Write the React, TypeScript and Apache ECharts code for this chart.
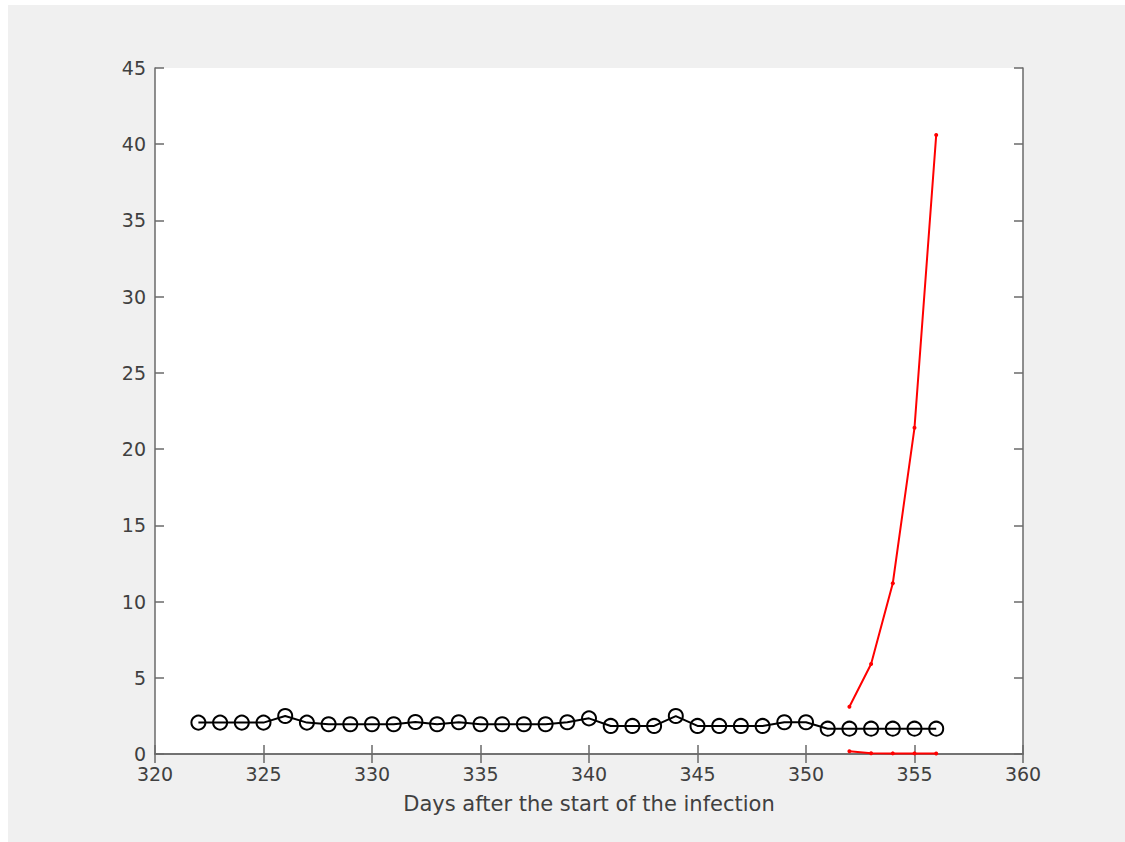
import React, { useEffect, useRef } from "react";
import * as echarts from "echarts";

const days = [322, 323, 324, 325, 326, 327, 328, 329, 330, 331, 332, 333, 334, 335, 336, 337, 338, 339, 340, 341, 342, 343, 344, 345, 346, 347, 348, 349, 350, 351, 352, 353, 354, 355, 356];
const observed = [2.06, 2.06, 2.06, 2.06, 2.49, 2.06, 1.95, 1.95, 1.95, 1.95, 2.1, 1.95, 2.08, 1.95, 1.95, 1.95, 1.95, 2.08, 2.34, 1.84, 1.84, 1.84, 2.49, 1.84, 1.84, 1.84, 1.84, 2.08, 2.08, 1.66, 1.66, 1.66, 1.66, 1.66, 1.66];
const forecastDays = [352, 353, 354, 355, 356];
const forecastHigh = [3.1, 5.9, 11.2, 21.4, 40.6];
const forecastLow = [0.18, 0.05, 0.04, 0.04, 0.03];
const xTicks = { min: 320, max: 360, interval: 5 };
const yTicks = { min: 0, max: 45, interval: 5 };
const xName = "Days after the start of the infection";

const FONT = "DejaVu Sans";
const TXT = "#404040";
const AX = "#6a6a6a";

export default function App() {
  const ref = useRef<HTMLDivElement>(null);
  useEffect(() => {
    if (!ref.current) return;
    const chart = echarts.init(ref.current, null, { renderer: "svg" });
    const pairs = (xs: number[], ys: number[]) => xs.map((x, i) => [x, ys[i]]);
    const axisLine = { show: true, lineStyle: { color: AX, width: 1.5 } };
    const axisTick = { show: true, inside: true, length: 9, lineStyle: { color: AX, width: 1.5 } };
    chart.setOption({
      animation: false,
      backgroundColor: "#ffffff",
      graphic: [
        { type: "rect", z: -10, shape: { x: 8, y: 5, width: 1117, height: 837 }, style: { fill: "#f0f0f0" }, silent: true },
      ],
      grid: { left: 155, right: 102, top: 68, bottom: 88, show: true, backgroundColor: "#ffffff", borderWidth: 0 },
      xAxis: [
        {
          type: "value", ...xTicks, position: "bottom",
          name: xName, nameLocation: "middle", nameGap: 39,
          nameTextStyle: { fontFamily: FONT, fontSize: 21, color: TXT },
          axisLine, axisTick,
          axisLabel: { fontFamily: FONT, fontSize: 19, color: TXT, margin: 10 },
          splitLine: { show: false },
        },
        {
          type: "value", ...xTicks, position: "top",
          axisLine, axisTick, axisLabel: { show: false }, splitLine: { show: false },
        },
      ],
      yAxis: [
        {
          type: "value", ...yTicks, position: "left",
          axisLine, axisTick,
          axisLabel: { fontFamily: FONT, fontSize: 19, color: TXT, margin: 9 },
          splitLine: { show: false },
        },
        {
          type: "value", ...yTicks, position: "right",
          axisLine, axisTick, axisLabel: { show: false }, splitLine: { show: false },
        },
      ],
      series: [
        {
          type: "line", data: pairs(days, observed),
          lineStyle: { color: "#000000", width: 2 },
          symbol: "circle", symbolSize: 14,
          itemStyle: { color: "rgba(0,0,0,0)", borderColor: "#000000", borderWidth: 2 },
          z: 3,
        },
        {
          type: "line", data: pairs(forecastDays, forecastHigh),
          lineStyle: { color: "#ff0000", width: 2 },
          symbol: "circle", symbolSize: 4,
          itemStyle: { color: "#ff0000" },
          z: 2,
        },
        {
          type: "line", data: pairs(forecastDays, forecastLow),
          lineStyle: { color: "#ff0000", width: 2 },
          symbol: "circle", symbolSize: 4,
          itemStyle: { color: "#ff0000" },
          z: 2,
        },
      ],
    });
    return () => chart.dispose();
  }, []);
  return (
    <div style={{ position: "absolute", left: 0, top: 0, width: 1125, height: 842 }}>
      <div ref={ref} style={{ width: 1125, height: 842 }} />
    </div>
  );
}
